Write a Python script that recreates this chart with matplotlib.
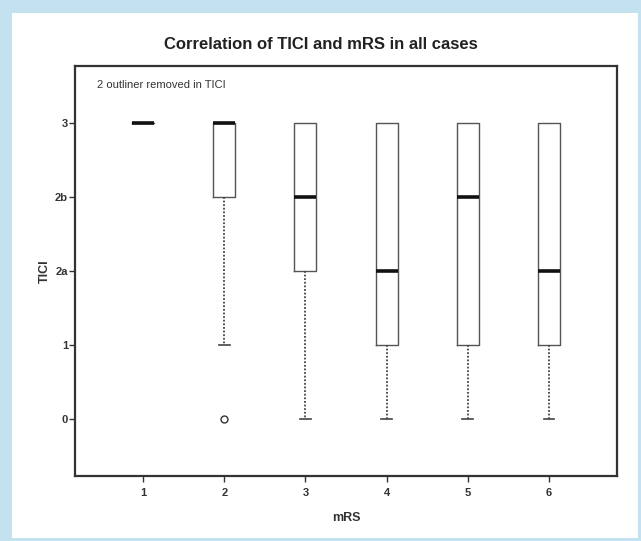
import matplotlib.pyplot as plt
from matplotlib.patches import Rectangle

plt.rcParams['font.family'] = ['Liberation Sans', 'DejaVu Sans']

# mRS groups and TICI box statistics (TICI coded 0,1,2a,2b,3 -> 0..4)
mrs = [1, 2, 3, 4, 5, 6]
tici_labels = ['0', '1', '2a', '2b', '3']
q1 = [4, 3, 2, 1, 1, 1]
med = [4, 4, 3, 2, 3, 2]
q3 = [4, 4, 4, 4, 4, 4]
whis_lo = [4, 1, 0, 0, 0, 0]
whis_hi = [4, 4, 4, 4, 4, 4]
outliers = [[], [0], [], [], [], []]

stats = []
for i in range(len(mrs)):
    stats.append({'med': med[i], 'q1': q1[i], 'q3': q3[i],
                  'whislo': whis_lo[i], 'whishi': whis_hi[i],
                  'fliers': outliers[i], 'label': str(mrs[i])})

fig = plt.figure(figsize=(6.41, 5.41), dpi=100, facecolor='#c3e1ef')
W, H = 641, 541
fig.patches.append(Rectangle((12 / W, 3 / H), 626 / W, 525 / H,
                             transform=fig.transFigure, facecolor='white',
                             edgecolor='none', zorder=-5))

ax = fig.add_axes([75 / W, 1 - 476 / H, 542 / W, 410 / H])
ax.set_zorder(2)

bp = ax.bxp(stats, positions=mrs, widths=0.27, showfliers=True,
            boxprops=dict(color='#555555', linewidth=1.0),
            medianprops=dict(color='#111111', linewidth=2.6),
            whiskerprops=dict(color='#444444', linewidth=1.3, linestyle=(0, (1, 1))),
            capprops=dict(color='#444444', linewidth=1.2),
            flierprops=dict(marker='o', markersize=5, markerfacecolor='none',
                            markeredgecolor='#333333', markeredgewidth=1.0),
            capwidths=0.13)
# no upper caps in the original (max == q3)
for cap in bp['caps'][1::2]:
    cap.set_visible(False)
bp['caps'][0].set_visible(False)

ax.set_xlim(0.16, 6.84)
ax.set_ylim(-0.77, 4.77)
ax.set_yticks(range(5))
ax.set_yticklabels(tici_labels)
ax.set_xticks(mrs)
ax.set_xticklabels([str(m) for m in mrs])
ax.tick_params(labelsize=8, length=4, width=1, color='#333333', pad=1)
ax.tick_params(axis='x', pad=5)
for lab in ax.get_xticklabels() + ax.get_yticklabels():
    lab.set_fontweight('bold')
    lab.set_color('#333333')
for s in ax.spines.values():
    s.set_linewidth(1.6)
    s.set_color('#333333')

ax.set_xlabel('mRS', fontsize=9, fontweight='bold', color='#333333', labelpad=10)
ax.set_ylabel('TICI', fontsize=9, fontweight='bold', color='#333333', labelpad=3)
ax.text(0.04, 0.965, '2 outliner removed in TICI', transform=ax.transAxes,
        fontsize=8, color='#333333', va='top', ha='left')
fig.text(0.5, 1 - 45 / H, 'Correlation of TICI and mRS in all cases',
         fontsize=12, fontweight='bold', color='#222222', ha='center', va='center')

fig.savefig('out.png', dpi=100, facecolor=fig.get_facecolor())
